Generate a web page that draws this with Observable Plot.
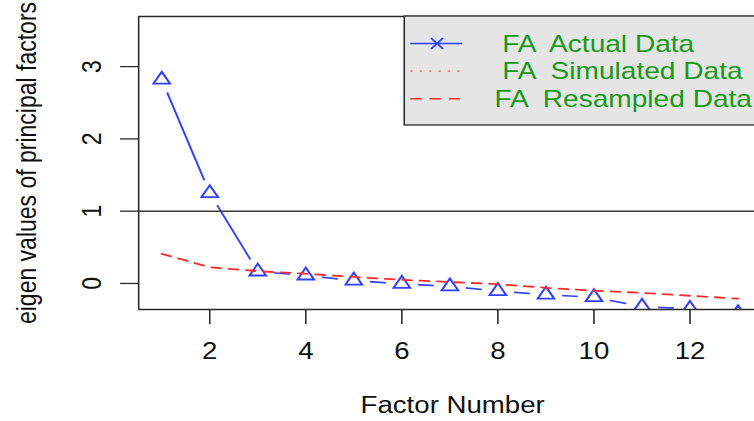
<!DOCTYPE html>
<html>
<head>
<meta charset="utf-8">
<script src="https://cdn.jsdelivr.net/npm/d3@7"></script>
<script src="https://cdn.jsdelivr.net/npm/@observablehq/plot@0.6"></script>
<style>
  html, body { margin: 0; padding: 0; background: #fff; overflow: hidden; }
  #chart svg text { white-space: pre; }
</style>
</head>
<body>
<div id="chart"></div>
<script>
// ---- data ----
const factors   = [1, 2, 3, 4, 5, 6, 7, 8, 9, 10, 11, 12, 13];
const actual    = [2.82, 1.25, 0.165, 0.11, 0.04, -0.005, -0.04, -0.105, -0.155, -0.19, -0.32, -0.35, -0.41];
const resampled = [0.41, 0.225, 0.17, 0.135, 0.09, 0.05, 0.02, -0.01, -0.06, -0.10, -0.13, -0.17, -0.21];
const xTicks = [2, 4, 6, 8, 10, 12];
const yTicks = [0, 1, 2, 3];
const refLine = [1];
const legendLabels = ["  FA  Actual Data", "  FA  Simulated Data", " FA  Resampled Data"];
const xLabel = "Factor Number";
const yLabel = "eigen values of principal factors";

// ---- styling ----
const BLUE = "#2f40ff", RED = "#ff2a2a", PINK = "#ff7b7b", GREEN = "#179a17", INK = "#2a2a2a";
const FONT = "'Liberation Sans', Arial, Helvetica, sans-serif";
const FS = 23;
const LFS = 23.4;
const W = 628, H = 421;           // drawing space (stretched horizontally to 754 like the reference)
const xDomain = [0.52, 13.345];
const yDomain = [-0.36, 3.693];

const rows = factors.map((f, i) => ({f, a: actual[i], r: resampled[i]}));

function legendMark(index, scales, values, dims) {
  const g = d3.create("svg:g")
    .attr("font-family", FONT).attr("font-size", LFS).attr("text-anchor", "start");
  const x0 = 336.7, y0 = dims.marginTop, y1 = 125;
  g.append("rect")
    .attr("x", x0).attr("y", y0)
    .attr("width", dims.width - x0 + 20).attr("height", y1 - y0)
    .attr("fill", "#e5e5e5").attr("stroke", INK).attr("stroke-width", 1.3);
  const lx1 = 341.7, lx2 = 385, mx = 364;
  const styles = [
    {stroke: BLUE, dash: null, w: 1.6},
    {stroke: PINK, dash: "2,5.8", w: 1.6},
    {stroke: RED, dash: "9.5,6.5", w: 1.6}
  ];
  legendLabels.forEach((lab, i) => {
    const cy = 43.5 + i * 27.6;
    const s = styles[i];
    const ln = g.append("line").attr("x1", lx1).attr("x2", lx2).attr("y1", cy).attr("y2", cy)
      .attr("stroke", s.stroke).attr("stroke-width", s.w);
    if (s.dash) ln.attr("stroke-dasharray", s.dash);
    if (i === 0) {
      g.append("path")
        .attr("d", `M${mx-5},${cy-5.5}L${mx+5},${cy+5.5}M${mx-5},${cy+5.5}L${mx+5},${cy-5.5}`)
        .attr("stroke", BLUE).attr("stroke-width", 1.8).attr("fill", "none");
    }
    g.append("text")
      .attr("xml:space", "preserve")
      .attr("text-anchor", "start")
      .attr("x", 405.3).attr("y", cy + 8.4)
      .attr("fill", GREEN)
      .text(lab);
  });
  return g.node();
}

const txt = {fill: "#111", fontSize: FS, textAnchor: "middle", lineAnchor: "middle"};

const svg = Plot.plot({
  width: W, height: H,
  marginLeft: 115, marginRight: 0, marginTop: 16, marginBottom: 112,
  x: {domain: xDomain, axis: null},
  y: {domain: yDomain, axis: null},
  style: {fontFamily: FONT, fontSize: FS + "px", background: "white", color: "#000"},
  marks: [
    // actual data: line with gaps around the points (type = "b")
    Plot.line(rows, {x: "f", y: "a", stroke: BLUE, strokeWidth: 1.6, clip: true}),
    Plot.dot(rows, {x: "f", y: "a", r: 13.5, symbol: "circle", fill: "white", stroke: "none", clip: true}),
    Plot.dot(rows, {x: "f", y: "a", r: 5.1, symbol: "triangle", stroke: BLUE, strokeWidth: 1.8, fill: "none", clip: true}),
    // resampled data
    Plot.line(rows, {x: "f", y: "r", stroke: RED, strokeWidth: 1.8, strokeDasharray: "8,6.5", clip: true}),
    // reference line at 1
    Plot.ruleY(refLine, {stroke: "#3a3a3a", strokeWidth: 1.5}),
    // frame (left, top, bottom)
    Plot.ruleX([xDomain[0]], {stroke: INK, strokeWidth: 1.3}),
    Plot.ruleY(yDomain, {stroke: INK, strokeWidth: 1.3}),
    // ticks
    Plot.axisX(xTicks, {anchor: "bottom", tickSize: 15, tickFormat: () => "", stroke: INK, strokeWidth: 1.3, label: null}),
    Plot.axisY(yTicks, {anchor: "left", tickSize: 15, tickFormat: () => "", stroke: INK, strokeWidth: 1.3, label: null}),
    // tick labels
    Plot.text(xTicks, {...txt, x: d => d, text: d => String(d), frameAnchor: "bottom", dy: 42.6}),
    Plot.text(yTicks, {...txt, y: d => d, text: d => String(d), frameAnchor: "left", dx: -39.1, rotate: -90}),
    // axis titles
    Plot.text([xLabel], {...txt, frameAnchor: "bottom", dx: 5, dy: 96.6}),
    Plot.text([yLabel], {...txt, frameAnchor: "left", dx: -93.1, rotate: -90}),
    // legend
    legendMark
  ]
});

svg.setAttribute("width", 754);
svg.setAttribute("height", 421);
svg.setAttribute("viewBox", `0 0 ${W} ${H}`);
svg.setAttribute("preserveAspectRatio", "none");
svg.style.width = "754px";
svg.style.height = "421px";
svg.style.maxWidth = "none";
svg.style.display = "block";
document.getElementById("chart").appendChild(svg);
</script>
</body>
</html>
